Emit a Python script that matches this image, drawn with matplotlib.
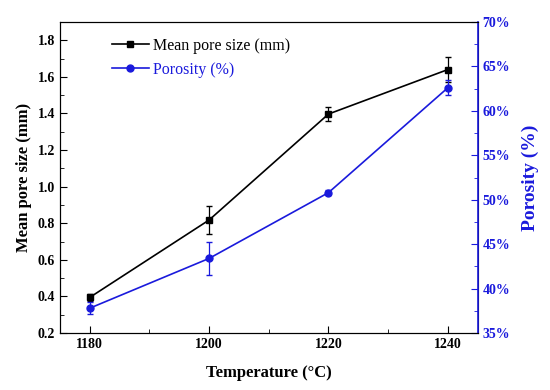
import numpy as np
import matplotlib.pyplot as plt
from matplotlib.lines import Line2D
from matplotlib.ticker import MultipleLocator, FuncFormatter

temps = [1180, 1200, 1220, 1240]
pore_size = [0.395, 0.818, 1.397, 1.64]
pore_err = [0.02, 0.075, 0.037, 0.07]
porosity = [37.8, 43.4, 50.8, 62.6]
porosity_err = [0.7, 1.85, 0.3, 0.85]

plt.rcParams['font.family'] = 'Liberation Serif'
blue = '#1a1adc'

fig = plt.figure(figsize=(5.5, 3.9), dpi=100)
ax = fig.add_axes([0.109, 0.146, 0.7595, 0.7976])
ax2 = ax.twinx()

ax.errorbar(temps, pore_size, yerr=pore_err, color='black', marker='s', ms=5,
            lw=1.2, capsize=2.5, elinewidth=0.9)
ax2.errorbar(temps, porosity, yerr=porosity_err, color=blue, marker='o', ms=5,
             lw=1.2, capsize=2.5, elinewidth=0.9)

ax.set_xlim(1175, 1245)
ax.set_ylim(0.2, 1.9)
ax2.set_ylim(35, 70)

ax.xaxis.set_major_locator(MultipleLocator(20))
ax.xaxis.set_minor_locator(MultipleLocator(10))
ax.yaxis.set_major_locator(MultipleLocator(0.2))
ax.yaxis.set_minor_locator(MultipleLocator(0.1))
ax.yaxis.set_major_formatter(FuncFormatter(lambda v, p: f'{v:.1f}'))
ax2.yaxis.set_major_locator(MultipleLocator(5))
ax2.yaxis.set_minor_locator(MultipleLocator(2.5))
ax2.yaxis.set_major_formatter(FuncFormatter(lambda v, p: f'{v:.0f}%'))

ax.tick_params(which='both', direction='in', labelsize=10)
ax.tick_params(which='major', length=5)
ax.tick_params(which='minor', length=3)
ax2.tick_params(which='both', direction='in', colors=blue, labelsize=10)
ax2.tick_params(which='major', length=5)
ax2.tick_params(which='minor', length=3)
ax2.spines['right'].set_color(blue)
ax2.spines['right'].set_linewidth(1.2)

for lab in ax.get_xticklabels() + ax.get_yticklabels() + ax2.get_yticklabels():
    lab.set_fontweight('bold')

ax.set_xlabel('Temperature (°C)', fontsize=12, fontweight='bold', labelpad=10)
ax.set_ylabel('Mean pore size (mm)', fontsize=12, fontweight='bold')
ax2.set_ylabel('Porosity (%)', fontsize=14, fontweight='bold', color=blue, labelpad=8)

handles = [Line2D([], [], color='black', marker='s', ms=5, lw=1.2),
           Line2D([], [], color=blue, marker='o', ms=5, lw=1.2)]
leg = ax.legend(handles, ['Mean pore size (mm)', 'Porosity (%)'], loc='upper left',
                bbox_to_anchor=(0.09, 0.995), frameon=False, fontsize=11.5,
                handlelength=2.3, handletextpad=0.3)
leg.get_texts()[1].set_color(blue)

fig.savefig('out.png', dpi=100)
